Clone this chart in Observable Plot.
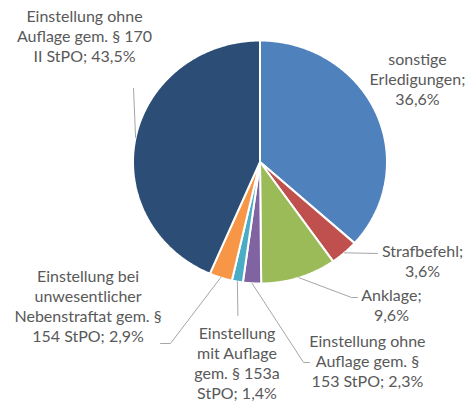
<!DOCTYPE html>
<html><head><meta charset="utf-8">
<script src="https://cdn.jsdelivr.net/npm/d3@7"></script>
<script src="https://cdn.jsdelivr.net/npm/@observablehq/plot@0.6"></script>
<style>html,body{margin:0;padding:0;background:#fff;}</style>
</head><body><div id="chart"></div>
<script>
// ---- data ----
const categories = [
  "sonstige Erledigungen",
  "Strafbefehl",
  "Anklage",
  "Einstellung ohne Auflage gem. § 153 StPO",
  "Einstellung mit Auflage gem. § 153a StPO",
  "Einstellung bei unwesentlicher Nebenstraftat gem. § 154 StPO",
  "Einstellung ohne Auflage gem. § 170 II StPO"
];
const values = [36.6, 3.6, 9.6, 2.3, 1.4, 2.9, 43.5];
const nameLines = [
  "sonstige\nErledigungen;",
  "Strafbefehl;",
  "Anklage;",
  "Einstellung ohne\nAuflage gem. §\n153 StPO;",
  "Einstellung\nmit Auflage\ngem. § 153a\nStPO;",
  "Einstellung bei\nunwesentlicher\nNebenstraftat gem. §\n154 StPO;",
  "Einstellung ohne\nAuflage gem. § 170\nII StPO;"
];
const valueSep = ["\n", "\n", "\n", " ", " ", " ", " "];
const colors = ["#4F81BD", "#C0504D", "#9BBB59", "#8064A2", "#4BACC6", "#F79646", "#2C4D75"];

// ---- layout (pie-radius units, relative to the pie centre) ----
const labelPos = [
  [1.240, 0.683], [1.280, -0.812], [1.035, -1.174], [0.846, -1.635],
  [-0.181, -1.650], [-1.354, -1.181], [-1.382, 1.040]
];
const leaderBends = [
  null,
  [[0.925, -0.753]],
  [[0.720, -1.115], [0.768, -1.115]],
  [[0.343, -1.650], [0.390, -1.650]],
  [[-0.174, -1.263]],
  [[-0.705, -1.494], [-0.783, -1.494]],
  [[-0.996, 0.605]]
];

// ---- geometry from values ----
const total = d3.sum(values);
let acc = 0;
const slices = values.map((v, i) => {
  const a0 = acc / total * 2 * Math.PI; acc += v;
  const a1 = acc / total * 2 * Math.PI;
  return {cat: categories[i], a0, a1, mid: (a0 + a1) / 2};
});
const piePts = [];
slices.forEach(s => {
  piePts.push({cat: s.cat, x: 0, y: 0});
  const n = Math.max(2, Math.ceil((s.a1 - s.a0) / (Math.PI / 360)));
  for (let k = 0; k <= n; k++) {
    const a = s.a0 + (s.a1 - s.a0) * k / n;
    piePts.push({cat: s.cat, x: Math.sin(a), y: Math.cos(a)});
  }
});
const leaderPts = [];
slices.forEach((s, i) => {
  if (!leaderBends[i]) return;
  leaderPts.push({cat: s.cat, x: Math.sin(s.mid), y: Math.cos(s.mid)});
  leaderBends[i].forEach(([x, y]) => leaderPts.push({cat: s.cat, x, y}));
});
const fmt = v => v.toFixed(1).replace(".", ",") + "%";
const labelData = categories.map((c, i) => ({
  cat: c, x: labelPos[i][0], y: labelPos[i][1],
  text: nameLines[i] + valueSep[i] + fmt(values[i])
}));

const chart = Plot.plot({
  width: 469, height: 401, margin: 0,
  style: {background: "#fff", fontFamily: "Lato, sans-serif"},
  x: {domain: [-259.5 / 127, (469 - 259.5) / 127], axis: null},
  y: {domain: [-(401 - 161.5) / 121.5, 161.5 / 121.5], axis: null},
  color: {domain: categories, range: colors},
  marks: [
    Plot.line(piePts, {x: "x", y: "y", z: "cat", fill: "cat", stroke: "white", strokeWidth: 2, curve: "linear-closed", strokeLinejoin: "miter"}),
    Plot.line(leaderPts, {x: "x", y: "y", z: "cat", stroke: "#A6A6A6", strokeWidth: 1}),
    Plot.text(labelData, {x: "x", y: "y", text: "text", fontSize: 16, lineHeight: 1.25, fill: "#595959", fontFamily: "Lato, sans-serif"})
  ]
});
document.getElementById("chart").appendChild(chart);
</script>
</body></html>
